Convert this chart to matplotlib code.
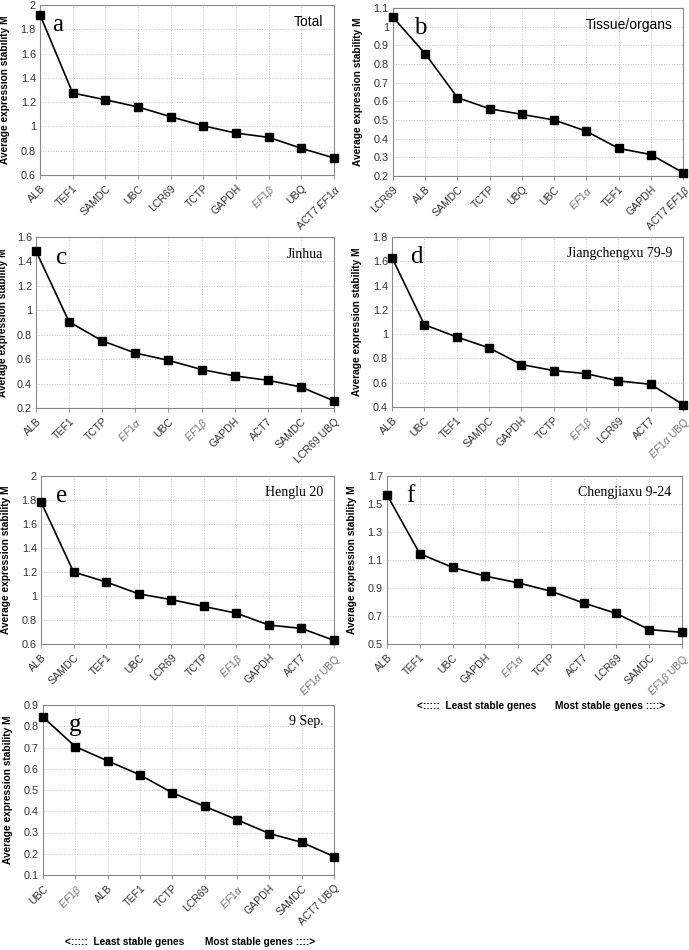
import matplotlib
matplotlib.use('Agg')
import matplotlib.pyplot as plt

plt.rcParams['font.family'] = ['Liberation Sans', 'DejaVu Sans']
plt.rcParams['mathtext.fontset'] = 'custom'
plt.rcParams['mathtext.rm'] = 'Liberation Sans'
plt.rcParams['mathtext.it'] = 'Liberation Sans:italic'

# gene order (least -> most stable) and M values per panel
genes_a = ['ALB', 'TEF1', 'SAMDC', 'UBC', 'LCR69', 'TCTP', 'GAPDH', 'EF1β', 'UBQ', 'ACT7 EF1α']
m_a = [1.92, 1.275, 1.22, 1.16, 1.08, 1.005, 0.945, 0.91, 0.82, 0.74]

genes_b = ['LCR69', 'ALB', 'SAMDC', 'TCTP', 'UBQ', 'UBC', 'EF1α', 'TEF1', 'GAPDH', 'ACT7 EF1β']
m_b = [1.05, 0.855, 0.62, 0.56, 0.53, 0.50, 0.44, 0.348, 0.315, 0.218]

genes_c = ['ALB', 'TEF1', 'TCTP', 'EF1α', 'UBC', 'EF1β', 'GAPDH', 'ACT7', 'SAMDC', 'LCR69 UBQ']
m_c = [1.485, 0.905, 0.75, 0.65, 0.59, 0.515, 0.463, 0.427, 0.372, 0.258]

genes_d = ['ALB', 'UBC', 'TEF1', 'SAMDC', 'GAPDH', 'TCTP', 'EF1β', 'LCR69', 'ACT7', 'EF1α UBQ']
m_d = [1.63, 1.078, 0.977, 0.887, 0.75, 0.70, 0.675, 0.615, 0.587, 0.42]

genes_e = ['ALB', 'SAMDC', 'TEF1', 'UBC', 'LCR69', 'TCTP', 'EF1β', 'GAPDH', 'ACT7', 'EF1α UBQ']
m_e = [1.785, 1.20, 1.117, 1.018, 0.97, 0.913, 0.857, 0.758, 0.73, 0.63]

genes_f = ['ALB', 'TEF1', 'UBC', 'GAPDH', 'EF1α', 'TCTP', 'ACT7', 'LCR69', 'SAMDC', 'EF1β UBQ']
m_f = [1.565, 1.145, 1.047, 0.985, 0.937, 0.877, 0.793, 0.718, 0.603, 0.583]

genes_g = ['UBC', 'EF1β', 'ALB', 'TEF1', 'TCTP', 'LCR69', 'EF1α', 'GAPDH', 'SAMDC', 'ACT7 UBQ']
m_g = [0.843, 0.704, 0.637, 0.571, 0.487, 0.423, 0.36, 0.295, 0.254, 0.187]

letters = ['a', 'b', 'c', 'd', 'e', 'f', 'g']
titles = ['Total', 'Tissue/organs', 'Jinhua', 'Jiangchengxu 79-9', 'Henglu 20', 'Chengjiaxu 9-24', '9 Sep.']
y_ticks = [
    [0.6, 0.8, 1.0, 1.2, 1.4, 1.6, 1.8, 2.0],
    [0.2, 0.3, 0.4, 0.5, 0.6, 0.7, 0.8, 0.9, 1.0, 1.1],
    [0.2, 0.4, 0.6, 0.8, 1.0, 1.2, 1.4, 1.6],
    [0.4, 0.6, 0.8, 1.0, 1.2, 1.4, 1.6, 1.8],
    [0.6, 0.8, 1.0, 1.2, 1.4, 1.6, 1.8, 2.0],
    [0.5, 0.7, 0.9, 1.1, 1.3, 1.5, 1.7],
    [0.1, 0.2, 0.3, 0.4, 0.5, 0.6, 0.7, 0.8, 0.9],
]
panels = [(genes_a, m_a), (genes_b, m_b), (genes_c, m_c), (genes_d, m_d),
          (genes_e, m_e), (genes_f, m_f), (genes_g, m_g)]

W, H = 689, 950
# axes boxes in pixels: left, right, top, bottom
boxes = [(40, 334, 5, 175), (393, 683, 8, 176),
         (36, 334, 237, 408), (392, 683, 237, 407),
         (41, 334, 476, 644), (387, 682, 476, 644),
         (43, 334, 705, 875)]
ylab_off = [30, 30, 28, 30, 30, 30, 30]
letter_x = [0.06, 0.095, 0.085, 0.085, 0.07, 0.08, 0.11]
title_serif = [False, False, True, True, True, True, True]


def fmt_label(g):
    # EF1 genes are written in italics
    parts = []
    for p in g.split(' '):
        if p.startswith('EF1'):
            parts.append(r'$\mathit{' + p + '}$')
        else:
            parts.append(p)
    return ' '.join(parts)


fig = plt.figure(figsize=(W / 100, H / 100), dpi=100)

for i, (genes, vals) in enumerate(panels):
    l, r, t, b = boxes[i]
    ax = fig.add_axes([l / W, 1 - b / H, (r - l) / W, (b - t) / H])
    x = list(range(len(genes)))
    ax.plot(x, vals, color='black', lw=1.2, marker='s', ms=5.5, clip_on=False, zorder=5)
    ax.set_xlim(0, len(genes) - 1)
    ax.set_ylim(y_ticks[i][0], y_ticks[i][-1])
    ax.set_yticks(y_ticks[i])
    ax.set_yticklabels(['%g' % v for v in y_ticks[i]], fontsize=7.8, color='#333333')
    ax.set_xticks(x)
    labs = ax.set_xticklabels([fmt_label(g) for g in genes], rotation=45, ha='right',
                              rotation_mode='anchor', fontsize=7.6, color='#333333')
    for lab, g in zip(labs, genes):
        if g.startswith('EF1'):
            lab.set_color('#777777')
    ax.tick_params(axis='x', length=3, color='#999999', pad=3)
    ax.tick_params(axis='y', length=0, pad=3)
    ax.grid(True, ls=':', color='#c4c4c4', lw=0.7)
    for s in ax.spines.values():
        s.set_color('#888888')
        s.set_linewidth(0.8)
    ax.set_ylabel('Average expression stability M', fontsize=7.3, fontweight='bold')
    ax.yaxis.set_label_coords(-ylab_off[i] / (r - l), 0.5)
    ax.text(letter_x[i], 0.88, letters[i], transform=ax.transAxes, fontsize=18,
            family='Liberation Serif', va='center', ha='center')
    ax.text(0.965, 0.9, titles[i], transform=ax.transAxes, fontsize=10,
            family='Liberation Serif' if title_serif[i] else 'Liberation Sans',
            va='center', ha='right')

# stability direction notes under panels f and g
for (x1, x2, y) in [(417, 555, 706), (65, 205, 942)]:
    fig.text(x1 / W, 1 - y / H, '<:::::  Least stable genes', fontsize=7.3, fontweight='bold',
             va='center', ha='left')
    fig.text(x2 / W, 1 - y / H, 'Most stable genes ::::>', fontsize=7.3, fontweight='bold',
             va='center', ha='left')

fig.savefig('out.png', dpi=100)
